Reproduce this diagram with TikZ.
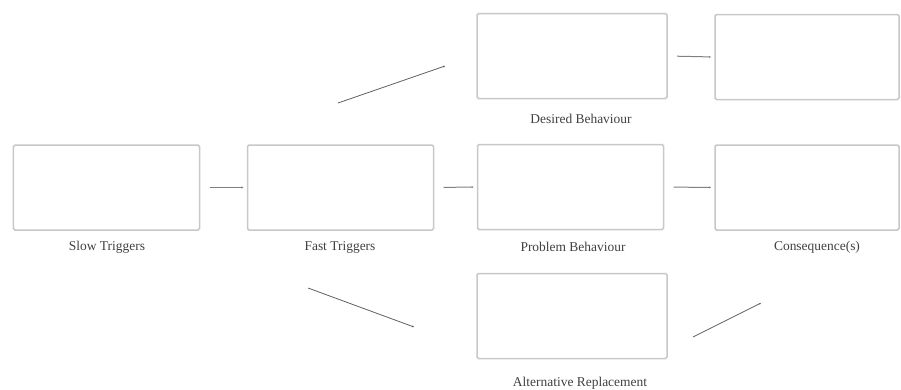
\documentclass[tikz,border=0pt]{standalone}
\usepackage{fontspec}
\setmainfont{Liberation Serif}
\usetikzlibrary{arrows.meta}
\definecolor{boxgray}{HTML}{C8C8C8}
\definecolor{linkgray}{HTML}{606060}
\definecolor{textgray}{HTML}{404040}
\begin{document}
\begin{tikzpicture}[x=1bp,y=-1bp,
  stagebox/.style={draw=boxgray, line width=1.5bp, rounded corners=1.5bp,
    minimum width=186bp, minimum height=85bp, inner sep=0pt, outer sep=0pt},
  caption/.style={font=\fontsize{13.5}{15}\selectfont, text=textgray, inner sep=0pt},
  link/.style={draw=linkgray, line width=0.8bp, -{Stealth[length=2bp,width=2bp]}},
  shortlink/.style={link, draw=linkgray!80, line width=1bp, shorten <=10bp, shorten >=4bp}]
\useasboundingbox (0,0) rectangle (901,389);

% stage boxes
\node[stagebox] (slow)     at (106.5,187.5) {};
\node[stagebox] (fast)     at (340.5,187.5) {};
\node[stagebox] (problem)  at (570.5,187)   {};
\node[stagebox, minimum width=184bp] (conseq) at (807,187.5) {};
\node[stagebox, minimum width=190bp] (desired) at (572,56) {};
\node[stagebox, minimum width=184bp] (topright) at (807,57) {};
\node[stagebox, minimum width=190bp] (altern)  at (572,316) {};

% captions
\node[caption] (slowlbl)    at (107,247) {Slow Triggers};
\node[caption] (fastlbl)    at (340,247) {Fast Triggers};
\node[caption] (problbl)    at (573,247) {Problem Behaviour};
\node[caption] (conslbl)    at (817,247) {Consequence(s)};
\node[caption] (desiredlbl) at (581,119) {Desired Behaviour};
\node[caption] (altlbl)     at (580,383) {Alternative Replacement};

% straight links between neighbouring stages
\draw[shortlink] (slow.east) -- (fast.west);
\draw[shortlink] (fast.east) -- (problem.west);
\draw[shortlink] (problem.east) -- (conseq.west);
\draw[shortlink] (desired.east) -- (topright.west);

% slanted links
\coordinate (upA) at (338,103);
\coordinate (upB) at (445,66);
\coordinate (downA) at (308,288);
\coordinate (downB) at (414,327);
\coordinate (backA) at (693,337);
\coordinate (backB) at (761,303);
\draw[link] (upA) -- (upB);
\draw[link] (downA) -- (downB);
\draw[link] (backA) -- (backB);
\end{tikzpicture}
\end{document}
